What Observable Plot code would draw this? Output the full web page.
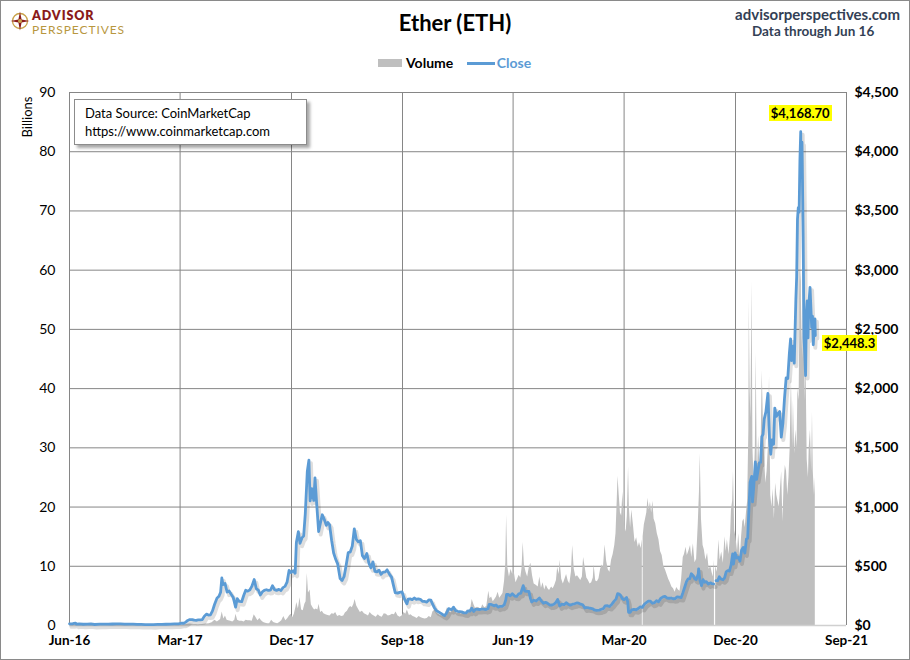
<!DOCTYPE html>
<html>
<head>
<meta charset="utf-8">
<script src="https://cdn.jsdelivr.net/npm/d3@7"></script>
<script src="https://cdn.jsdelivr.net/npm/@observablehq/plot@0.6"></script>
<style>
  body { margin: 0; background: #fff; }
  #wrap { position: relative; width: 910px; height: 660px; overflow: hidden; background: #fff;
          font-family: Lato, "Open Sans", "DejaVu Sans", sans-serif; color: #000; }
  #wrap > svg { position: absolute; left: 0; top: 0; }
  .abs { position: absolute; white-space: nowrap; }
  #frame { position: absolute; left: 0; top: 0; width: 910px; height: 660px; box-sizing: border-box;
           border: 1px solid #8a8a8a; pointer-events: none; }
  .hl { position: absolute; background: #ffff00; font-weight: 700; font-size: 13px; padding: 0 2px; line-height: 16px; white-space: nowrap; }
</style>
</head>
<body>
<div id="wrap"></div>
<script>
// ---------------- DATA ----------------
const title = "Ether (ETH)";
const siteText = "advisorperspectives.com";
const throughText = "Data through Jun 16";
const sourceLines = ["Data Source: CoinMarketCap", "https://www.coinmarketcap.com"];
const legendLabels = ["Volume", "Close"];
const leftAxisTitle = "Billions";

const xTickDates = ["2016-06-01","2017-03-01","2017-12-01","2018-09-01","2019-06-01","2020-03-01","2020-12-01","2021-09-01"];
const volumeTicks = [0,10,20,30,40,50,60,70,80,90];   // billions
const priceTicks = [0,500,1000,1500,2000,2500,3000,3500,4000,4500]; // dollars

// Close price (USD)
const close2016 = [["2016-06-01",14.0],["2016-06-08",14.5],["2016-06-12",17.5],["2016-06-16",20.6],["2016-06-18",11.2],["2016-06-25",13.9],["2016-07-05",10.5],["2016-07-15",11.9],["2016-07-24",12.8],["2016-08-02",8.4],["2016-08-15",11.2],["2016-08-25",11.0],["2016-09-05",11.7],["2016-09-15",12.5],["2016-09-25",12.9],["2016-10-05",13.1],["2016-10-15",11.9],["2016-10-25",11.4],["2016-11-05",11.0],["2016-11-15",10.0],["2016-11-25",9.0],["2016-12-05",7.6],["2016-12-15",7.9],["2016-12-25",7.2]];
const close2017 = [["2017-01-05",10.3],["2017-01-15",9.9],["2017-01-25",10.6],["2017-02-05",11.3],["2017-02-15",12.9],["2017-02-25",13.1],["2017-03-05",19.3],["2017-03-10",19.1],["2017-03-15",28.5],["2017-03-20",42.6],["2017-03-25",50.3],["2017-03-31",50.0],["2017-04-05",45.0],["2017-04-10",43.7],["2017-04-15",48.0],["2017-04-20",48.0],["2017-04-25",50.0],["2017-04-30",79.0],["2017-05-05",96],["2017-05-10",88],["2017-05-15",90],["2017-05-20",123],["2017-05-25",177],["2017-05-31",230],["2017-06-05",247],["2017-06-09",280],["2017-06-12",401],["2017-06-15",345],["2017-06-20",355],["2017-06-25",282],["2017-06-30",292],["2017-07-05",264],["2017-07-10",239],["2017-07-16",155],["2017-07-20",227],["2017-07-25",203],["2017-07-31",201],["2017-08-05",253],["2017-08-10",298],["2017-08-15",290],["2017-08-20",300],["2017-08-25",330],["2017-08-31",388],["2017-09-05",312],["2017-09-10",299],["2017-09-15",258],["2017-09-20",283],["2017-09-25",296],["2017-09-30",302],["2017-10-05",296],["2017-10-10",298],["2017-10-15",336],["2017-10-20",302],["2017-10-25",297],["2017-10-31",305],["2017-11-05",296],["2017-11-10",320],["2017-11-15",330],["2017-11-20",366],["2017-11-25",465],["2017-11-30",447],["2017-12-05",463],["2017-12-10",441],["2017-12-13",701],["2017-12-18",793],["2017-12-22",694],["2017-12-27",740],["2017-12-31",756]];
const close2018 = [["2018-01-04",943],["2018-01-09",1300],["2018-01-13",1396],["2018-01-16",1052],["2018-01-20",1155],["2018-01-25",1056],["2018-01-28",1247],["2018-02-01",1036],["2018-02-06",793],["2018-02-10",860],["2018-02-15",935],["2018-02-20",895],["2018-02-25",845],["2018-03-01",870],["2018-03-05",850],["2018-03-10",720],["2018-03-15",612],["2018-03-20",560],["2018-03-25",520],["2018-03-31",397],["2018-04-05",380],["2018-04-10",415],["2018-04-15",510],["2018-04-20",615],["2018-04-25",620],["2018-04-30",670],["2018-05-05",816],["2018-05-10",728],["2018-05-15",707],["2018-05-20",715],["2018-05-25",590],["2018-05-30",565],["2018-06-05",608],["2018-06-10",527],["2018-06-15",488],["2018-06-20",537],["2018-06-25",456],["2018-06-30",453],["2018-07-05",467],["2018-07-10",432],["2018-07-15",450],["2018-07-20",450],["2018-07-25",470],["2018-07-31",432],["2018-08-05",408],["2018-08-10",334],["2018-08-14",278],["2018-08-20",273],["2018-08-25",280],["2018-08-31",283],["2018-09-05",230],["2018-09-12",183],["2018-09-15",222],["2018-09-20",225],["2018-09-25",218],["2018-09-30",232],["2018-10-05",221],["2018-10-10",225],["2018-10-15",221],["2018-10-20",204],["2018-10-25",203],["2018-10-31",198],["2018-11-05",216],["2018-11-10",214],["2018-11-14",182],["2018-11-19",148],["2018-11-24",125],["2018-11-30",113],["2018-12-05",102],["2018-12-10",91],["2018-12-14",84],["2018-12-18",100],["2018-12-24",142],["2018-12-31",133]];
const close2019 = [["2019-01-05",155],["2019-01-10",126],["2019-01-15",120],["2019-01-20",118],["2019-01-25",115],["2019-01-31",107],["2019-02-05",106],["2019-02-10",124],["2019-02-15",121],["2019-02-19",146],["2019-02-24",119],["2019-02-28",136],["2019-03-05",137],["2019-03-10",135],["2019-03-15",138],["2019-03-20",138],["2019-03-25",134],["2019-03-31",141],["2019-04-03",178],["2019-04-08",178],["2019-04-15",166],["2019-04-20",173],["2019-04-25",155],["2019-04-30",162],["2019-05-05",162],["2019-05-10",174],["2019-05-14",216],["2019-05-16",262],["2019-05-20",262],["2019-05-25",251],["2019-05-30",268],["2019-06-05",249],["2019-06-10",246],["2019-06-15",268],["2019-06-20",272],["2019-06-26",336],["2019-06-30",290],["2019-07-05",288],["2019-07-10",288],["2019-07-14",227],["2019-07-17",199],["2019-07-22",213],["2019-07-28",207],["2019-08-05",232],["2019-08-10",206],["2019-08-15",188],["2019-08-20",196],["2019-08-25",187],["2019-08-31",172],["2019-09-05",173],["2019-09-10",180],["2019-09-15",197],["2019-09-19",220],["2019-09-24",166],["2019-09-30",180],["2019-10-05",176],["2019-10-10",192],["2019-10-15",180],["2019-10-20",172],["2019-10-26",180],["2019-10-31",183],["2019-11-05",190],["2019-11-10",188],["2019-11-15",180],["2019-11-20",175],["2019-11-25",148],["2019-11-30",152],["2019-12-05",148],["2019-12-10",145],["2019-12-15",141],["2019-12-18",132],["2019-12-24",128],["2019-12-31",130]];
const close2020 = [["2020-01-05",137],["2020-01-10",143],["2020-01-14",165],["2020-01-20",167],["2020-01-25",160],["2020-01-31",180],["2020-02-05",204],["2020-02-10",223],["2020-02-14",268],["2020-02-17",267],["2020-02-21",256],["2020-02-26",225],["2020-03-01",218],["2020-03-07",237],["2020-03-10",200],["2020-03-12",112],["2020-03-16",111],["2020-03-20",132],["2020-03-25",136],["2020-03-31",133],["2020-04-05",143],["2020-04-10",158],["2020-04-15",153],["2020-04-20",179],["2020-04-25",194],["2020-04-30",206],["2020-05-05",205],["2020-05-10",188],["2020-05-15",193],["2020-05-20",210],["2020-05-25",200],["2020-05-31",231],["2020-06-05",241],["2020-06-10",246],["2020-06-15",232],["2020-06-20",230],["2020-06-25",232],["2020-06-30",226],["2020-07-05",227],["2020-07-10",241],["2020-07-15",239],["2020-07-20",236],["2020-07-24",275],["2020-07-28",317],["2020-08-02",370],["2020-08-06",394],["2020-08-10",395],["2020-08-14",437],["2020-08-18",423],["2020-08-22",395],["2020-08-26",387],["2020-08-31",434],["2020-09-01",478],["2020-09-04",386],["2020-09-08",337],["2020-09-12",387],["2020-09-16",365],["2020-09-20",371],["2020-09-25",350],["2020-09-30",360],["2020-10-04",353],["2020-10-08",351],["2020-10-11",null],["2020-10-14",379],["2020-10-18",378],["2020-10-22",412],["2020-10-26",393],["2020-10-31",386],["2020-11-04",402],["2020-11-08",453],["2020-11-12",463],["2020-11-16",460],["2020-11-20",510],["2020-11-24",604],["2020-11-26",518],["2020-11-30",613],["2020-12-04",570],["2020-12-08",574],["2020-12-12",545],["2020-12-16",636],["2020-12-20",659],["2020-12-24",612],["2020-12-28",731],["2020-12-31",737]];
const close2021 = [["2021-01-03",975],["2021-01-06",1209],["2021-01-10",1259],["2021-01-12",1044],["2021-01-15",1171],["2021-01-19",1382],["2021-01-22",1233],["2021-01-26",1317],["2021-01-29",1376],["2021-02-01",1377],["2021-02-04",1594],["2021-02-07",1614],["2021-02-10",1744],["2021-02-14",1804],["2021-02-19",1960],["2021-02-23",1570],["2021-02-26",1446],["2021-03-01",1567],["2021-03-05",1530],["2021-03-08",1836],["2021-03-12",1765],["2021-03-16",1790],["2021-03-20",1806],["2021-03-24",1591],["2021-03-28",1707],["2021-04-01",1919],["2021-04-05",2091],["2021-04-09",2085],["2021-04-13",2300],["2021-04-16",2420],["2021-04-18",2237],["2021-04-22",2359],["2021-04-25",2215],["2021-04-29",2755],["2021-05-01",2944],["2021-05-03",3432],["2021-05-05",3528],["2021-05-07",3490],["2021-05-09",3926],["2021-05-11",4168.70],["2021-05-12",3825],["2021-05-14",4080],["2021-05-16",3589],["2021-05-17",3283],["2021-05-19",2430],["2021-05-21",2295],["2021-05-23",2110],["2021-05-25",2644],["2021-05-27",2741],["2021-05-29",2428],["2021-05-31",2710],["2021-06-03",2855],["2021-06-05",2691],["2021-06-07",2517],["2021-06-09",2612],["2021-06-11",2370],["2021-06-13",2510],["2021-06-15",2589],["2021-06-16",2448.3]];

// Volume (billions USD)
const vol2016 = [["2016-06-01",0.03],["2016-06-17",0.3],["2016-06-25",0.05],["2016-07-24",0.1],["2016-08-15",0.02],["2016-09-15",0.02],["2016-10-15",0.02],["2016-11-15",0.02],["2016-12-15",0.02]];
const vol2017 = [["2017-01-15",0.02],["2017-02-15",0.02],["2017-03-05",0.05],["2017-03-15",0.15],["2017-03-25",0.25],["2017-04-05",0.15],["2017-04-15",0.1],["2017-04-25",0.15],["2017-05-05",0.25],["2017-05-12",0.3],["2017-05-19",0.45],["2017-05-26",0.9],["2017-06-01",0.6],["2017-06-05",0.8],["2017-06-09",1.0],["2017-06-13",2.3],["2017-06-17",1.1],["2017-06-21",1.6],["2017-06-25",0.9],["2017-06-29",0.8],["2017-07-04",0.7],["2017-07-09",0.6],["2017-07-14",0.9],["2017-07-17",1.9],["2017-07-21",0.9],["2017-07-26",0.7],["2017-08-01",0.7],["2017-08-06",0.6],["2017-08-11",0.9],["2017-08-16",0.8],["2017-08-21",0.8],["2017-08-26",0.7],["2017-08-31",1.8],["2017-09-04",1.4],["2017-09-09",0.8],["2017-09-14",1.2],["2017-09-18",0.8],["2017-09-23",0.5],["2017-09-28",0.4],["2017-10-03",0.3],["2017-10-08",0.3],["2017-10-13",0.9],["2017-10-18",0.5],["2017-10-23",0.4],["2017-10-28",0.3],["2017-11-02",0.5],["2017-11-07",0.8],["2017-11-12",1.5],["2017-11-17",0.8],["2017-11-22",1.2],["2017-11-26",1.6],["2017-11-30",1.9],["2017-12-04",1.3],["2017-12-08",1.9],["2017-12-12",3.1],["2017-12-14",3.9],["2017-12-18",2.8],["2017-12-22",4.7],["2017-12-26",2.6],["2017-12-30",2.5]];
const vol2018 = [["2018-01-03",3.6],["2018-01-06",4.0],["2018-01-09",8.8],["2018-01-12",5.5],["2018-01-16",6.0],["2018-01-19",3.5],["2018-01-23",3.0],["2018-01-27",2.6],["2018-01-31",2.8],["2018-02-04",2.6],["2018-02-07",3.6],["2018-02-11",2.2],["2018-02-15",2.4],["2018-02-19",2.0],["2018-02-24",1.8],["2018-03-01",1.7],["2018-03-06",1.6],["2018-03-11",2.0],["2018-03-16",1.9],["2018-03-20",2.2],["2018-03-25",1.5],["2018-03-30",1.7],["2018-04-04",1.5],["2018-04-09",1.6],["2018-04-13",2.1],["2018-04-18",2.4],["2018-04-22",2.9],["2018-04-26",3.2],["2018-04-30",3.0],["2018-05-04",3.6],["2018-05-07",4.4],["2018-05-11",3.3],["2018-05-15",2.8],["2018-05-20",2.2],["2018-05-25",2.4],["2018-05-30",2.0],["2018-06-04",1.8],["2018-06-09",1.6],["2018-06-13",2.2],["2018-06-18",1.8],["2018-06-23",1.6],["2018-06-28",1.4],["2018-07-03",1.8],["2018-07-08",1.5],["2018-07-13",1.4],["2018-07-18",2.0],["2018-07-23",1.9],["2018-07-28",1.6],["2018-08-02",1.7],["2018-08-07",1.9],["2018-08-12",1.8],["2018-08-16",2.3],["2018-08-21",1.6],["2018-08-26",1.4],["2018-08-31",1.6],["2018-09-05",2.2],["2018-09-09",1.9],["2018-09-13",2.6],["2018-09-18",1.7],["2018-09-22",1.8],["2018-09-27",1.5],["2018-10-02",1.4],["2018-10-07",1.2],["2018-10-12",1.5],["2018-10-17",1.3],["2018-10-22",1.2],["2018-10-27",1.1],["2018-11-01",1.2],["2018-11-06",1.5],["2018-11-11",1.3],["2018-11-15",2.3],["2018-11-20",2.6],["2018-11-25",2.1],["2018-11-29",1.9],["2018-12-04",1.7],["2018-12-08",1.6],["2018-12-13",1.5],["2018-12-18",2.4],["2018-12-21",3.0],["2018-12-25",2.4],["2018-12-29",2.1]];
const vol2019 = [["2019-01-02",2.4],["2019-01-06",2.9],["2019-01-10",2.6],["2019-01-14",2.0],["2019-01-19",2.2],["2019-01-24",1.9],["2019-01-29",2.1],["2019-02-03",2.0],["2019-02-08",2.6],["2019-02-12",2.3],["2019-02-17",3.1],["2019-02-20",4.4],["2019-02-24",3.6],["2019-02-28",2.9],["2019-03-05",3.1],["2019-03-09",3.0],["2019-03-14",2.7],["2019-03-18",3.5],["2019-03-23",3.0],["2019-03-28",3.2],["2019-04-02",5.8],["2019-04-05",4.5],["2019-04-09",4.8],["2019-04-13",4.0],["2019-04-17",4.4],["2019-04-21",4.8],["2019-04-25",5.6],["2019-04-29",4.6],["2019-05-03",5.0],["2019-05-07",5.4],["2019-05-11",7.5],["2019-05-14",10.5],["2019-05-16",18.6],["2019-05-19",9.8],["2019-05-23",8.2],["2019-05-27",9.5],["2019-05-31",8.6],["2019-06-04",9.0],["2019-06-08",7.2],["2019-06-12",7.8],["2019-06-16",8.5],["2019-06-20",8.0],["2019-06-23",9.6],["2019-06-26",14.0],["2019-06-29",10.2],["2019-07-03",9.0],["2019-07-07",8.2],["2019-07-11",9.8],["2019-07-15",10.5],["2019-07-19",8.4],["2019-07-23",7.0],["2019-07-28",6.8],["2019-08-02",6.5],["2019-08-06",8.2],["2019-08-10",6.3],["2019-08-14",7.2],["2019-08-18",6.0],["2019-08-22",6.8],["2019-08-26",6.2],["2019-08-30",5.9],["2019-09-04",6.5],["2019-09-08",6.2],["2019-09-12",6.8],["2019-09-16",7.6],["2019-09-19",9.8],["2019-09-23",8.6],["2019-09-25",11.0],["2019-09-29",7.8],["2019-10-03",7.0],["2019-10-07",7.8],["2019-10-11",8.6],["2019-10-15",7.5],["2019-10-19",7.0],["2019-10-23",9.0],["2019-10-26",13.5],["2019-10-30",9.5],["2019-11-03",8.2],["2019-11-07",8.4],["2019-11-11",8.0],["2019-11-15",7.6],["2019-11-19",8.2],["2019-11-22",11.5],["2019-11-26",9.8],["2019-11-30",8.0],["2019-12-04",7.6],["2019-12-08",7.0],["2019-12-12",7.2],["2019-12-16",8.0],["2019-12-18",10.2],["2019-12-22",7.5],["2019-12-26",7.4],["2019-12-30",7.9]];
const vol2020 = [["2020-01-03",9.5],["2020-01-07",10.2],["2020-01-10",9.8],["2020-01-14",13.6],["2020-01-18",10.8],["2020-01-22",9.4],["2020-01-26",9.0],["2020-01-30",11.0],["2020-02-03",12.0],["2020-02-07",13.5],["2020-02-10",15.5],["2020-02-13",21.0],["2020-02-15",25.2],["2020-02-18",22.0],["2020-02-21",19.0],["2020-02-24",18.5],["2020-02-27",22.5],["2020-03-02",17.0],["2020-03-06",15.8],["2020-03-09",18.5],["2020-03-12",26.8],["2020-03-14",20.0],["2020-03-17",16.5],["2020-03-20",19.5],["2020-03-24",17.0],["2020-03-28",14.0],["2020-04-01",14.8],["2020-04-05",13.2],["2020-04-08",14.0],["2020-04-12",13.0],["2020-04-15",14.5],["2020-04-16",null],["2020-04-17",15.0],["2020-04-20",17.0],["2020-04-23",18.0],["2020-04-26",19.0],["2020-04-29",21.5],["2020-05-02",19.5],["2020-05-05",20.8],["2020-05-08",19.0],["2020-05-11",21.0],["2020-05-14",18.0],["2020-05-18",17.2],["2020-05-22",15.5],["2020-05-26",14.5],["2020-05-30",12.5],["2020-06-03",11.8],["2020-06-07",10.0],["2020-06-11",9.4],["2020-06-15",8.6],["2020-06-19",7.8],["2020-06-23",7.2],["2020-06-27",6.5],["2020-07-01",6.2],["2020-07-05",5.6],["2020-07-09",6.4],["2020-07-13",6.0],["2020-07-17",5.8],["2020-07-21",7.8],["2020-07-25",11.5],["2020-07-28",12.0],["2020-08-01",13.2],["2020-08-04",11.8],["2020-08-08",12.6],["2020-08-12",13.5],["2020-08-15",11.5],["2020-08-19",13.8],["2020-08-23",10.6],["2020-08-27",11.2],["2020-08-31",17.0],["2020-09-03",22.5],["2020-09-05",29.0],["2020-09-08",18.0],["2020-09-12",13.5],["2020-09-15",12.8],["2020-09-19",11.0],["2020-09-23",12.2],["2020-09-27",9.5],["2020-10-01",10.0],["2020-10-04",9.0],["2020-10-07",8.2],["2020-10-10",11.0],["2020-10-11",null],["2020-10-13",10.0],["2020-10-17",9.0],["2020-10-21",14.5],["2020-10-24",11.0],["2020-10-28",12.4],["2020-11-01",10.5],["2020-11-05",15.0],["2020-11-08",12.5],["2020-11-11",14.5],["2020-11-15",12.0],["2020-11-19",15.5],["2020-11-21",19.5],["2020-11-24",21.0],["2020-11-26",26.0],["2020-11-29",16.0],["2020-12-02",15.0],["2020-12-06",12.5],["2020-12-09",15.5],["2020-12-13",11.5],["2020-12-16",15.0],["2020-12-19",17.5],["2020-12-22",18.0],["2020-12-25",16.5],["2020-12-28",19.0],["2020-12-31",21.0]];
const vol2021 = [["2021-01-03",33.0],["2021-01-04",55.0],["2021-01-06",40.0],["2021-01-08",35.0],["2021-01-11",58.0],["2021-01-13",30.0],["2021-01-16",24.0],["2021-01-19",30.0],["2021-01-21",46.0],["2021-01-24",25.0],["2021-01-27",32.0],["2021-01-30",27.0],["2021-02-02",29.0],["2021-02-05",43.0],["2021-02-08",34.0],["2021-02-11",28.0],["2021-02-14",24.0],["2021-02-17",26.0],["2021-02-20",30.0],["2021-02-23",42.0],["2021-02-26",22.0],["2021-03-01",20.0],["2021-03-04",23.0],["2021-03-07",18.0],["2021-03-10",24.0],["2021-03-13",22.0],["2021-03-16",21.0],["2021-03-19",20.0],["2021-03-22",23.0],["2021-03-25",26.0],["2021-03-28",17.5],["2021-03-31",24.0],["2021-04-03",27.0],["2021-04-06",26.0],["2021-04-09",22.0],["2021-04-12",25.0],["2021-04-15",30.0],["2021-04-18",42.0],["2021-04-21",30.0],["2021-04-23",38.0],["2021-04-26",29.0],["2021-04-29",33.0],["2021-05-02",30.0],["2021-05-04",40.0],["2021-05-07",38.0],["2021-05-10",60.0],["2021-05-12",58.0],["2021-05-14",50.0],["2021-05-16",45.0],["2021-05-19",84.0],["2021-05-20",60.0],["2021-05-22",38.0],["2021-05-24",45.0],["2021-05-27",28.0],["2021-05-30",25.0],["2021-06-01",30.0],["2021-06-04",33.0],["2021-06-07",26.0],["2021-06-09",36.0],["2021-06-11",26.0],["2021-06-14",22.0],["2021-06-16",25.0]];

const annotations = [
  {date: "2021-05-11", text: "$4,168.70", where: "above"},
  {date: "2021-06-16", text: "$2,448.3", where: "right"}
];

// --------------- BUILD ---------------
const parse = d3.utcParse("%Y-%m-%d");
const PRICE_PER_BILLION = priceTicks[priceTicks.length - 1] / volumeTicks[volumeTicks.length - 1]; // right axis / left axis
const closeRows = [...close2016, ...close2017, ...close2018, ...close2019, ...close2020, ...close2021]
  .map(([d, v]) => ({date: parse(d), price: v, yv: v == null ? NaN : v / PRICE_PER_BILLION}));
const volRows = [...vol2016, ...vol2017, ...vol2018, ...vol2019, ...vol2020, ...vol2021]
  .map(([d, v]) => ({date: parse(d), vol: v == null ? NaN : v}));
const xTicks = xTickDates.map(parse);
const fmtMoney = d3.format(",");

const FONT = "Lato, 'Open Sans', 'DejaVu Sans', sans-serif";

const chart = Plot.plot({
  width: 910, height: 660,
  marginLeft: 69, marginRight: 64, marginTop: 92, marginBottom: 35,
  x: {type: "utc", domain: [xTicks[0], xTicks[xTicks.length - 1]]},
  y: {domain: [volumeTicks[0], volumeTicks[volumeTicks.length - 1]]},
  style: {fontFamily: FONT, background: "transparent", color: "#000", overflow: "visible"},
  marks: [
    Plot.ruleY(volumeTicks.slice(1), {stroke: "#868686", strokeWidth: 1}),
    Plot.ruleX(xTicks, {stroke: "#868686", strokeWidth: 1}),
    Plot.area(volRows, {x1: "date", y1: () => 0, y2: "vol", fill: "#bfbfbf", curve: "linear"}),
    Plot.ruleY([0], {stroke: "#d0d0d0", strokeWidth: 1.5}),
    // soft shadow under the close line
    Plot.line(closeRows, {x: "date", y: "yv", dx: 2, dy: 3, stroke: "#000", strokeOpacity: 0.13, strokeWidth: 4, strokeLinejoin: "round"}),
    Plot.line(closeRows, {x: "date", y: "yv", stroke: "#5b9bd5", strokeWidth: 2.8, strokeLinejoin: "round"}),
    Plot.axisY(volumeTicks, {anchor: "left", tickSize: 0, tickPadding: 14, label: null, fontSize: 14}),
    Plot.axisY(volumeTicks, {anchor: "right", tickSize: 0, tickPadding: 8, label: null, fontSize: 14, fontWeight: "bold",
      tickFormat: d => "$" + fmtMoney(d * PRICE_PER_BILLION)}),
    Plot.axisX(xTicks, {anchor: "bottom", tickSize: 0, tickPadding: 10, label: null, fontSize: 13.5, fontWeight: "bold",
      tickFormat: d3.utcFormat("%b-%y")})
  ]
});

const wrap = document.getElementById("wrap");
wrap.appendChild(chart);

function addDiv(html, css) {
  const d = document.createElement("div");
  d.className = "abs";
  d.innerHTML = html;
  Object.assign(d.style, css);
  wrap.appendChild(d);
  return d;
}

// Title
addDiv(title, {left: "0px", top: "9px", width: "910px", textAlign: "center", fontSize: "22px", fontWeight: "700"});
// top-right texts
addDiv(siteText, {right: "10px", top: "5px", fontSize: "15px", fontWeight: "700", color: "#333f55"});
addDiv(throughText, {left: "752px", top: "23px", fontSize: "13.5px", fontWeight: "700", color: "#333f55"});

// Logo
addDiv(`<svg width="20" height="20" viewBox="0 0 20 20" style="position:absolute;left:0;top:1px">
  <circle cx="10" cy="10" r="7.5" fill="none" stroke="#c8a24a" stroke-width="1.3"/>
  <path d="M10 0.5 L11.6 8.4 L19.5 10 L11.6 11.6 L10 19.5 L8.4 11.6 L0.5 10 L8.4 8.4 Z" fill="#8b1a1a"/>
  <circle cx="10" cy="10" r="2" fill="#c8a24a"/></svg>`,
  {left: "10px", top: "10px", width: "22px", height: "22px"});
addDiv("ADVISOR", {left: "32px", top: "8px", fontSize: "12.5px", lineHeight: "15px", fontWeight: "800", color: "#8b1a1a", letterSpacing: "0.9px"});
addDiv("PERSPECTIVES", {left: "32px", top: "23px", fontSize: "12px", lineHeight: "14px", fontWeight: "400", color: "#b8973f", letterSpacing: "0.9px"});

// Legend
addDiv(`<span style="display:inline-block;width:24px;height:8px;background:#bfbfbf;vertical-align:middle;margin-right:4px"></span><span style="font-weight:700;vertical-align:middle">${legendLabels[0]}</span>
  <span style="display:inline-block;width:28px;height:2.5px;background:#5b9bd5;vertical-align:middle;margin-left:10px;margin-right:2px"></span><span style="font-weight:700;color:#5b9bd5;vertical-align:middle">${legendLabels[1]}</span>`,
  {left: "378px", top: "53px", fontSize: "14px", lineHeight: "18px"});

// Billions label
addDiv(leftAxisTitle, {left: "27px", top: "117px", fontSize: "13px", transform: "translate(-50%,-50%) rotate(-90deg)"});

// Data source box
addDiv(sourceLines.join("<br>"), {left: "74px", top: "99px", width: "233px", height: "46px", boxSizing: "border-box",
  border: "1px solid #8c8c8c", background: "#fff", padding: "4px 0 0 10px", fontSize: "13px", lineHeight: "18px",
  boxShadow: "3px 3px 3px rgba(0,0,0,0.35)"});

// Annotations positioned with the chart's own scales
const sx = chart.scale("x"), sy = chart.scale("y");
for (const a of annotations) {
  const row = closeRows.find(r => +r.date === +parse(a.date));
  const px = sx.apply(row.date), py = sy.apply(row.yv);
  const d = document.createElement("div");
  d.className = "hl";
  d.textContent = a.text;
  wrap.appendChild(d);
  const w = d.offsetWidth;
  if (a.where === "above") {
    d.style.left = (px - w / 2) + "px";
    d.style.top = (py - 26) + "px";
  } else {
    d.style.left = (px + 7) + "px";
    d.style.top = (py) + "px";
  }
}

// outer frame
const fr = document.createElement("div");
fr.id = "frame";
wrap.appendChild(fr);
</script>
</body>
</html>
